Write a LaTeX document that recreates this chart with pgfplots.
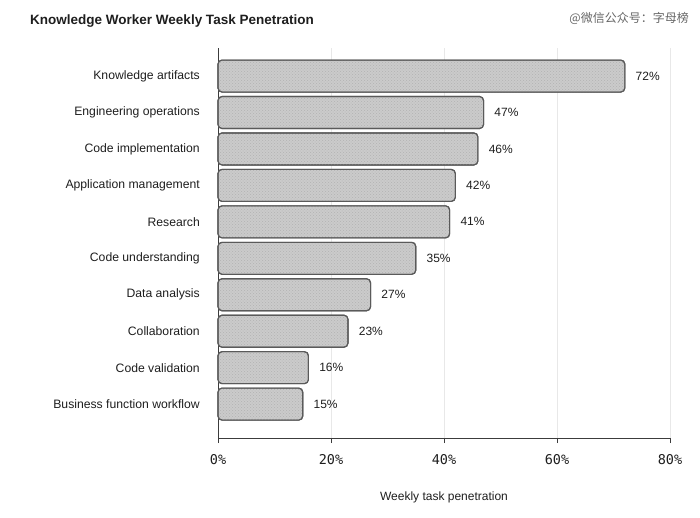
\documentclass[border=0pt]{standalone}
\usepackage{fontspec}
\setmainfont{Liberation Sans}
\setmonofont{DejaVu Sans Mono}
\newfontfamily\cjk{Noto Sans CJK SC}
\usepackage{pgfplots}
\usepackage{pgfplotstable}
\pgfplotsset{compat=1.18}
\usetikzlibrary{patterns}
\definecolor{barfill}{HTML}{CBCBCB}
\definecolor{barline}{HTML}{5A5A5A}
\definecolor{gridc}{HTML}{E8E8E8}
\definecolor{axc}{HTML}{3C3C3C}
\definecolor{txt}{HTML}{1E1E1E}
\pgfplotstableread{
i v
0 15
1 16
2 23
3 27
4 35
5 41
6 42
7 46
8 47
9 72
}\data
\begin{document}
\begin{tikzpicture}[x=1pt,y=1pt]
\useasboundingbox (0,0) rectangle (700,517);
\node[anchor=base west, font=\bfseries\fontsize{13.5}{16}\selectfont, text=txt, inner sep=0pt] at (30,492) {Knowledge Worker Weekly Task Penetration};
\node[anchor=base east, font=\fontsize{12}{14}\selectfont, text=black!60, inner sep=0pt] at (689,494) {\cjk @微信公众号：字母榜};
\begin{axis}[
  at={(218pt,79pt)}, anchor=south west,
  scale only axis, width=452pt, height=390pt,
  xmin=0, xmax=80, ymin=-0.93, ymax=9.77,
  axis lines*=left,
  axis line style={draw=axc, line width=0.8pt},
  xtick={0,20,40,60,80},
  xticklabels={0\%,20\%,40\%,60\%,80\%},
  ytick={0,...,9},
  yticklabels={Business function workflow,Code validation,Collaboration,Data analysis,Code understanding,Research,Application management,Code implementation,Engineering operations,Knowledge artifacts},
  tick align=outside,
  major tick length=5pt,
  xtick style={draw=axc, line width=0.8pt},
  ytick style={draw=none},
  xmajorgrids, major grid style={draw=gridc, line width=0.6pt},
  xticklabel style={font=\ttfamily\fontsize{13.5}{15}\selectfont, text=txt, yshift=-8pt},
  yticklabel style={font=\fontsize{12.2}{14}\selectfont, text=txt, inner sep=0pt, xshift=-13pt},
  xlabel={Weekly task penetration},
  xlabel style={at={(axis description cs:0.5,0)}, anchor=center, yshift=-59pt, font=\fontsize{12}{14}\selectfont, text=txt},
  clip=false,
]
\addplot[xbar, bar width=32pt, fill=barfill, draw=barline, line width=1.1pt, rounded corners=4pt,
  postaction={pattern=crosshatch dots, pattern color=black!30},
  nodes near coords={\pgfmathprintnumber[assume math mode=true]{\pgfplotspointmeta}\%},
  point meta=explicit,
  every node near coord/.append style={anchor=west, xshift=7pt, font=\fontsize{12}{14}\selectfont, text=txt}]
  table[x=v, y=i, meta=v] {\data};
\end{axis}
\end{tikzpicture}
\end{document}
